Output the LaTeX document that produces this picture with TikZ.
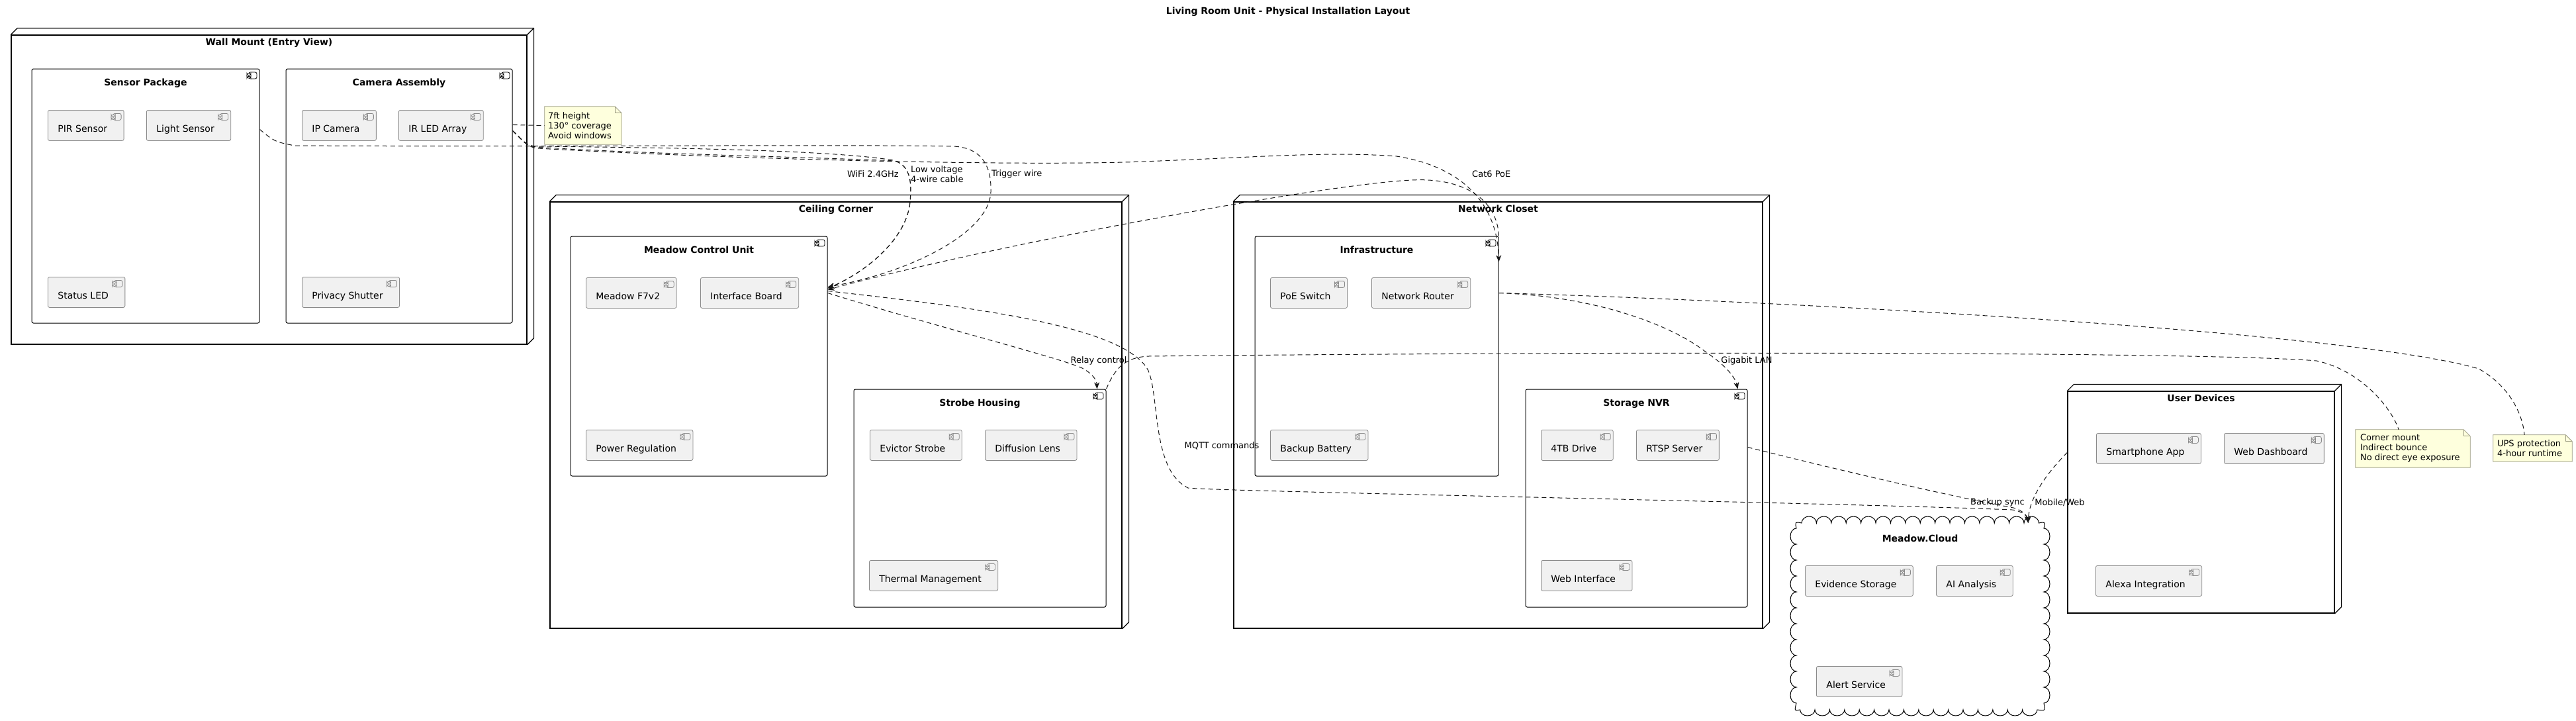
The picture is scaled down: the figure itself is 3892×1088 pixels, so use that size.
\documentclass[tikz,border=0pt]{standalone}
\usepackage{fontspec}
\setmainfont{DejaVu Sans}
\usetikzlibrary{positioning,fit,arrows.meta}

\definecolor{partfill}{HTML}{F1F1F1}
\definecolor{partline}{HTML}{8A8A8A}
\definecolor{notefill}{HTML}{FEFFDD}
\definecolor{noteline}{HTML}{9A9A80}
\definecolor{wirecol}{HTML}{181818}

% little component icon, top right of a box
\newcommand{\compicon}[3]{%
  \draw[#2, fill=#3, line width=0.8pt] ([shift={(-16pt,-5pt)}]#1.north east) rectangle ++(12,10);
  \draw[#2, fill=#3, line width=0.8pt] ([shift={(-19pt,-7pt)}]#1.north east) rectangle ++(6,2.5);
  \draw[#2, fill=#3, line width=0.8pt] ([shift={(-19pt,-11.5pt)}]#1.north east) rectangle ++(6,2.5);
}

% top and side of a 3d node
\newcommand{\nodedepth}[1]{%
  \draw[line width=1.2pt, line join=round] (#1.north west) -- ++(10,-10) -- ([shift={(10pt,10pt)}]#1.north east) -- ([shift={(10pt,10pt)}]#1.south east) -- (#1.south east);
  \draw[line width=1.2pt] (#1.north east) -- ++(10,-10);
}

% note with folded corner
\newcommand{\notefold}[1]{%
  \filldraw[draw=noteline, fill=notefill, line width=0.8pt] (#1.north west) -- ([xshift=-10pt]#1.north east) -- ([yshift=-10pt]#1.north east) -- (#1.south east) -- (#1.south west) -- cycle;
  \draw[noteline, line width=0.8pt] ([xshift=-10pt]#1.north east) |- ([yshift=-10pt]#1.north east);
}

\begin{document}
\begin{tikzpicture}[x=1pt, y=-1pt, >={Stealth[length=10pt,width=8pt,inset=3pt]},
    nodebox/.style={draw, fill=white, line width=1.2pt, inner sep=0pt},
    compbox/.style={draw, fill=white, line width=1pt, rounded corners=2.5pt, inner sep=0pt,
        path picture={\compicon{path picture bounding box}{black}{white}}},
    part/.style={draw=partline, fill=partfill, line width=0.8pt, rounded corners=2.5pt, anchor=north west,
        font=\fontsize{14}{16}\selectfont, inner xsep=15pt, inner ysep=0pt, text height=33pt, text depth=13pt,
        execute at end node={\hspace*{10pt}},
        path picture={\compicon{path picture bounding box}{partline}{partfill}}},
    boxtitle/.style={font=\bfseries\fontsize{14}{16}\selectfont, inner sep=0pt, text height=10pt, text depth=3pt},
    notetext/.style={font=\fontsize{13}{15}\selectfont, align=left, inner sep=0pt, anchor=west},
    lbl/.style={font=\fontsize{13}{14.5}\selectfont, align=left, inner sep=0pt},
    wire/.style={draw=wirecol, line width=1pt, dash pattern=on 7pt off 5pt}]

  \useasboundingbox (0,0) rectangle (3892,1088);

  \node[font=\bfseries\fontsize{14}{16}\selectfont] (title) at (1946,18) {Living Room Unit - Physical Installation Layout};

  % wall mount
  \node[nodebox, fit={(17,53) (796,520)}] (wall) {};
  \nodedepth{wall}
  \node[boxtitle, below=5.5pt of wall.north] (wallT) {Wall Mount (Entry View)};

  \node[compbox, fit={(48,104) (392,488)}] (sensor) {};
  \node[boxtitle, below=15.5pt of sensor.north] (sensorT) {Sensor Package};
  \node[part] (pir) at (72,166) {PIR Sensor};
  \node[part] (light) at (221,166) {Light Sensor};
  \node[part] (statusled) at (72,418) {Status LED};

  \node[compbox, fit={(432,104) (774,488)}] (camera) {};
  \node[boxtitle, below=15.5pt of camera.north] (cameraT) {Camera Assembly};
  \node[part] (ipcam) at (456,166) {IP Camera};
  \node[part] (irled) at (602,166) {IR LED Array};
  \node[part] (shutter) at (456,418) {Privacy Shutter};

  % ceiling corner
  \node[nodebox, fit={(831,305) (1695,949)}] (ceiling) {};
  \nodedepth{ceiling}
  \node[boxtitle, below=5.5pt of ceiling.north] (ceilingT) {Ceiling Corner};

  \node[compbox, fit={(862,357) (1250,719)}] (mcu) {};
  \node[boxtitle, below=15.5pt of mcu.north] (mcuT) {Meadow Control Unit};
  \node[part] (f7) at (885,419) {Meadow F7v2};
  \node[part] (iface) at (1058,419) {Interface Board};
  \node[part] (power) at (885,649) {Power Regulation};

  \node[compbox, fit={(1290,588) (1671,917)}] (strobe) {};
  \node[boxtitle, below=15.5pt of strobe.north] (strobeT) {Strobe Housing};
  \node[part] (evictor) at (1314,649) {Evictor Strobe};
  \node[part] (lens) at (1488,649) {Diffusion Lens};
  \node[part] (thermal) at (1313,846) {Thermal Management};

  % network closet
  \node[nodebox, fit={(1864,305) (2663,949)}] (closet) {};
  \nodedepth{closet}
  \node[boxtitle, below=5.5pt of closet.north] (closetT) {Network Closet};

  \node[compbox, fit={(1896,357) (2264,719)}] (infra) {};
  \node[boxtitle, below=15.5pt of infra.north] (infraT) {Infrastructure};
  \node[part] (poe) at (1919,419) {PoE Switch};
  \node[part] (router) at (2072,419) {Network Router};
  \node[part] (battery) at (1919,649) {Backup Battery};

  \node[compbox, fit={(2305,588) (2640,917)}] (nvr) {};
  \node[boxtitle, below=15.5pt of nvr.north] (nvrT) {Storage NVR};
  \node[part] (drive) at (2328,649) {4TB Drive};
  \node[part] (rtsp) at (2472,649) {RTSP Server};
  \node[part] (webif) at (2328,846) {Web Interface};

  % cloud
  \node[inner sep=0pt, fit={(2704,779) (3098,1082)}] (cloud) {};
  \draw[line width=1pt, fill=white] (2722,790)
      \foreach \i in {1,...,16} { arc[start angle=180, end angle=0, x radius=11.2pt, y radius=10pt] }
      .. controls (3090,788) .. (3088,798)
      \foreach \i in {1,...,11} { arc[start angle=90, end angle=-90, x radius=9pt, y radius=12pt] }
      .. controls (3090,1074) .. (3078,1072)
      \foreach \i in {1,...,16} { arc[start angle=0, end angle=-180, x radius=11.2pt, y radius=9pt] }
      .. controls (2711,1074) .. (2714,1062)
      \foreach \i in {1,...,11} { arc[start angle=-90, end angle=-270, x radius=9pt, y radius=12pt] }
      .. controls (2712,788) .. cycle;
  \node[boxtitle, below=29pt of cloud.north] (cloudT) {Meadow.Cloud};
  \node[part] (evidence) at (2727,854) {Evidence Storage};
  \node[part] (ai) at (2925,854) {AI Analysis};
  \node[part] (alert) at (2744,1006) {Alert Service};

  % user devices
  \node[nodebox, fit={(3124,591) (3527,926)}] (userdev) {};
  \nodedepth{userdev}
  \node[boxtitle, below=5.5pt of userdev.north] (userdevT) {User Devices};
  \node[part] (phone) at (3167,654) {Smartphone App};
  \node[part] (dash) at (3360,654) {Web Dashboard};
  \node[part] (alexa) at (3166,854) {Alexa Integration};

  % notes
  \node[inner sep=0pt, fit={(823,161) (939,218)}] (note7ft) {};
  \notefold{note7ft}
  \node[notetext] (note7ftT) at ([xshift=5pt]note7ft.west) {7ft height\\130° coverage\\Avoid windows};

  \node[inner sep=0pt, fit={(3559,649) (3732,706)}] (cornernote) {};
  \notefold{cornernote}
  \node[notetext] (cornernoteT) at ([xshift=7pt]cornernote.west) {Corner mount\\Indirect bounce\\No direct eye exposure};

  \node[inner sep=0pt, fit={(3767,657) (3886,697)}] (upsnote) {};
  \notefold{upsnote}
  \node[notetext] (upsnoteT) at ([xshift=6pt]upsnote.west) {UPS protection\\4-hour runtime};

  \coordinate (cloudin) at ([shift={(-34pt,-11pt)}]cloud.north east);

  % connectors
  \draw[wire] ([yshift=-85pt]camera.north east) -- (note7ft.west);

  \draw[wire,->] ([yshift=-92pt]sensor.north east) .. controls (415,214) .. (445,220)
      .. controls (800,222) and (1300,218) .. (1440,221) .. controls (1490,223) and (1498,260) .. (1497,290)
      .. controls (1495,350) and (1380,410) .. ([yshift=-77pt]mcu.north east);

  \draw[wire,->] ([yshift=-94pt]camera.north east) .. controls (790,212) and (795,220) .. (810,221)
      .. controls (1000,223) and (1250,226) .. (1350,242) .. controls (1378,250) and (1377,280) .. (1375,305)
      .. controls (1370,360) and (1310,410) .. ([yshift=-79pt]mcu.north east);
  \draw[wire,->] ([yshift=-94pt]camera.north east) .. controls (790,212) and (795,221) .. (810,222)
      .. controls (950,232) and (1250,238) .. (1352,243) .. controls (1378,252) and (1377,280) .. (1375,305)
      .. controls (1370,360) and (1310,410) .. ([yshift=-79pt]mcu.north east);

  \draw[wire,->] ([yshift=-94pt]camera.north east) .. controls (790,212) and (795,222) .. (812,224)
      .. controls (1100,240) and (1500,250) .. (1700,245) .. controls (1900,238) and (2000,228) .. (2110,236)
      .. controls (2200,250) and (2262,300) .. ([yshift=-39pt]infra.north east);

  \draw[wire,->] (infra.north east) .. controls (2262,300) and (2210,268) .. (2133,272)
      .. controls (2000,278) and (1500,370) .. ([yshift=-81pt]mcu.north east);

  \draw[wire,->] ([yshift=-86pt]mcu.north east) .. controls (1420,495) and (1600,540) .. (1635,556)
      .. controls (1652,565) and (1657,575) .. ([xshift=-14pt]strobe.north east);

  \draw[wire,->] ([yshift=-83pt]mcu.north east) .. controls (1450,462) and (1700,490) .. (1735,560)
      .. controls (1752,600) and (1740,710) .. (1795,737) .. controls (1830,742) and (2800,760) .. (3040,770)
      .. controls (3056,772) and (3063,780) .. (cloudin);

  \draw[wire] (strobe.north east) .. controls (1685,555) and (1700,540) .. (1735,538)
      .. controls (2500,530) and (3350,532) .. (3500,545) .. controls (3570,560) and (3615,620) .. ([xshift=-21.5pt]cornernote.north);

  \draw[wire] ([yshift=-86pt]infra.north east) .. controls (2700,455) and (3550,500) .. (3745,557)
      .. controls (3795,585) and (3812,630) .. ([xshift=-12.5pt]upsnote.north);

  \draw[wire,->] ([yshift=-86pt]infra.north east) .. controls (2420,448) and (2530,495) .. (2575,530)
      .. controls (2612,555) and (2622,572) .. ([xshift=-15pt]nvr.north east);

  \draw[wire,->] ([yshift=-88pt]nvr.north east) .. controls (2820,720) and (2960,752) .. (3042,767)
      .. controls (3057,771) and (3063,780) .. (cloudin);

  \draw[wire,->] ([yshift=-93pt]userdev.north west) .. controls (3095,712) and (3066,750) .. (cloudin);

  % labels
  \node[lbl, anchor=east] (wifiL) at (1358,263) {WiFi 2.4GHz};
  \node[lbl, anchor=west] (lowvL) at (1376,263) {Low voltage\\4-wire cable};
  \node[lbl, anchor=west] (trigL) at (1498,263) {Trigger wire};
  \node[lbl, anchor=west] (cat6L) at (2224,263) {Cat6 PoE};
  \node[lbl] (relayL) at (1660,545) {Relay control};
  \node[lbl] (mqttL) at (1846,673) {MQTT commands};
  \node[lbl] (gigL) at (2639,545) {Gigabit LAN};
  \node[lbl] (backL) at (3018,759) {Backup sync};
  \node[lbl] (mobL) at (3112,759) {Mobile/Web};

\end{tikzpicture}
\end{document}
